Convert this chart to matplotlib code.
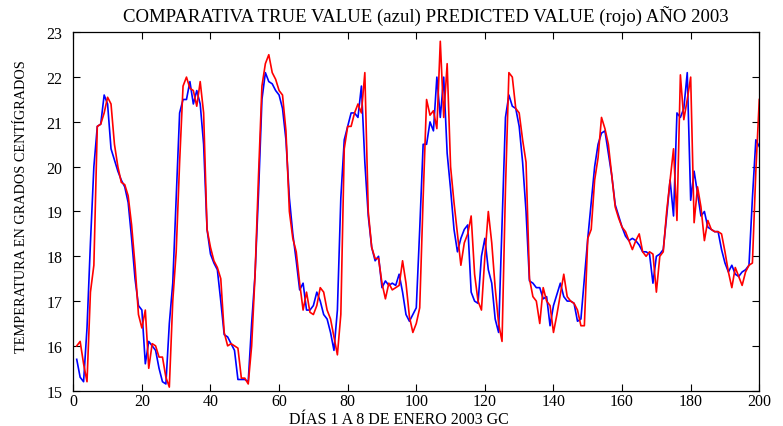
import numpy as np
import matplotlib
matplotlib.use("Agg")
import matplotlib.pyplot as plt

# hourly temperatures, 1 to 8 January 2003
days = np.arange(1, 201)

true_vals = [
    15.7, 15.3, 15.2, 16.4, 18.3, 20.0, 20.9, 20.95, 21.6, 21.4,
    20.4, 20.15, 19.9, 19.7, 19.55, 19.2, 18.4, 17.5, 16.9, 16.8,
    15.6, 16.1, 16.0, 15.9, 15.5, 15.2, 15.15, 16.5, 17.4, 19.3,
    21.2, 21.5, 21.5, 21.9, 21.4, 21.7, 21.4, 20.5, 18.6, 18.05,
    17.85, 17.7, 17.0, 16.25, 16.2, 16.05, 15.9, 15.25, 15.25, 15.25,
    15.2, 16.5, 17.6, 19.4, 21.5, 22.1, 21.9, 21.85, 21.7, 21.6,
    21.3, 20.6, 19.3, 18.5, 17.9, 17.25, 17.4, 16.8, 16.8, 16.9,
    17.2, 17.0, 16.7, 16.6, 16.3, 15.9, 16.8, 19.3, 20.6, 20.9,
    21.2, 21.2, 21.1, 21.8, 20.1, 18.9, 18.2, 17.9, 18.0, 17.3,
    17.45, 17.35, 17.4, 17.35, 17.6, 17.2, 16.7, 16.55, 16.7, 16.85,
    18.6, 20.5, 20.5, 21.0, 20.8, 22.0, 21.1, 22.0, 20.3, 19.5,
    18.6, 18.1, 18.4, 18.6, 18.7, 17.2, 17.0, 16.95, 18.0, 18.4,
    17.7, 17.4, 16.6, 16.3, 18.7, 21.1, 21.6, 21.35, 21.3, 20.9,
    20.1, 19.0, 17.45, 17.4, 17.3, 17.3, 17.05, 17.1, 16.45, 16.9,
    17.15, 17.4, 17.1, 17.0, 17.0, 16.95, 16.55, 16.6, 17.5, 18.4,
    19.2, 20.0, 20.5, 20.75, 20.8, 20.3, 19.8, 19.15, 18.9, 18.65,
    18.45, 18.35, 18.4, 18.35, 18.25, 18.1, 18.1, 18.05, 17.4, 18.0,
    18.05, 18.15, 18.9, 19.7, 18.9, 21.2, 21.1, 21.3, 22.1, 19.25,
    19.9, 19.4, 18.9, 19.0, 18.65, 18.6, 18.55, 18.55, 18.15, 17.85,
    17.65, 17.8, 17.6, 17.55, 17.65, 17.7, 17.8, 19.3, 20.6, 20.45,
]

pred_vals = [
    16.0, 16.1, 15.6, 15.2, 17.2, 17.8, 20.9, 20.95, 21.2, 21.55,
    21.4, 20.5, 20.0, 19.65, 19.6, 19.35, 18.7, 17.8, 16.7, 16.4,
    16.8, 15.5, 16.05, 16.0, 15.75, 15.75, 15.3, 15.08, 17.0, 18.1,
    20.1, 21.8, 22.0, 21.75, 21.7, 21.35, 21.9, 21.2, 18.6, 18.2,
    17.9, 17.75, 17.5, 16.3, 16.0, 16.05, 16.0, 15.95, 15.28, 15.28,
    15.15, 16.0, 17.6, 19.8, 21.8, 22.3, 22.5, 22.1, 21.95, 21.7,
    21.6, 20.8, 19.0, 18.4, 18.1, 17.4, 16.8, 17.2, 16.75, 16.7,
    16.9, 17.3, 17.2, 16.8, 16.6, 16.2, 15.8, 16.7, 20.4, 20.9,
    20.9, 21.2, 21.4, 21.2, 22.1, 19.0, 18.2, 17.95, 17.95, 17.4,
    17.05, 17.4, 17.25, 17.3, 17.35, 17.9, 17.4, 16.65, 16.3, 16.5,
    16.85, 19.3, 21.5, 21.15, 21.25, 20.85, 22.8, 21.1, 22.3, 20.0,
    19.2, 18.5, 17.8, 18.3, 18.5, 18.9, 17.6, 17.0, 16.8, 18.0,
    19.0, 18.3, 17.3, 16.5, 16.1, 19.5, 22.1, 22.0, 21.3, 21.2,
    20.6, 20.1, 17.5, 17.1, 17.0, 16.5, 17.3, 17.0, 16.9, 16.3,
    16.7, 17.15, 17.6, 17.1, 17.0, 16.95, 16.8, 16.45, 16.45, 18.4,
    18.6, 19.7, 20.2, 21.1, 20.85, 20.5, 19.8, 19.1, 18.85, 18.65,
    18.55, 18.35, 18.15, 18.35, 18.5, 18.1, 18.0, 18.1, 18.05, 17.2,
    18.0, 18.1, 19.0, 19.7, 20.4, 18.8, 22.05, 21.05, 21.5, 22.0,
    18.75, 19.55, 19.1, 18.35, 18.8, 18.6, 18.55, 18.55, 18.5, 18.1,
    17.65, 17.3, 17.75, 17.55, 17.35, 17.65, 17.8, 17.85, 19.9, 21.5,
]

xticks = np.arange(0, 201, 20)
yticks = np.arange(15, 24, 1)

plt.rcParams['font.family'] = ['Liberation Serif', 'DejaVu Serif']

fig = plt.figure(figsize=(7.83, 4.27), dpi=100)
ax = fig.add_axes([0.0936, 0.0827, 0.8761, 0.8393])

ax.plot(days, true_vals, color='#0000ff', lw=1.2)
ax.plot(days, pred_vals, color='#ff0000', lw=1.2)

ax.set_xlim(0, 200)
ax.set_ylim(15, 23)
ax.set_xticks(xticks)
ax.set_yticks(yticks)
ax.tick_params(direction='in', top=True, right=True, length=5, width=0.8,
               labelsize=11.5)
ax.tick_params(axis='x', pad=2)
ax.tick_params(axis='y', pad=8)
for s in ax.spines.values():
    s.set_linewidth(0.9)

fig.text(0.544, 0.962, 'COMPARATIVA TRUE VALUE (azul) PREDICTED VALUE (rojo) AÑO 2003',
         fontsize=13.5, ha='center', va='center')
fig.text(0.509, 0.0066, 'DÍAS 1 A 8 DE ENERO 2003 GC', fontsize=11.5,
         ha='center', va='baseline')
fig.text(0.028, 0.515, 'TEMPERATURA EN GRADOS CENTÍGRADOS', fontsize=10.3,
         rotation=90, ha='center', va='center')

fig.savefig('out.png', dpi=100)
